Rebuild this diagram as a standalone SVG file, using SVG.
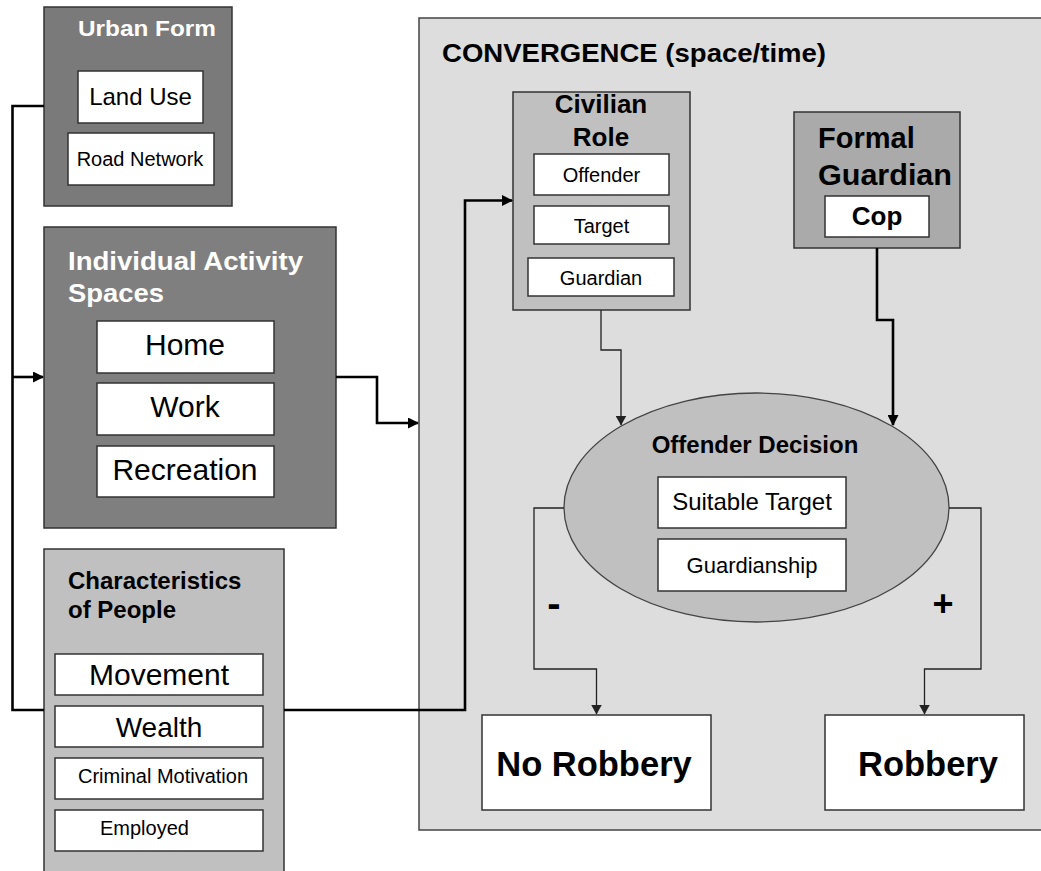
<svg xmlns="http://www.w3.org/2000/svg" width="1041" height="871" viewBox="0 0 1041 871">
  <style>
    text { font-family: "Liberation Sans", Arial, sans-serif; fill: #000; }
    .b { font-weight: bold; }
    .w { fill: #fff; }
    .mid { text-anchor: middle; }
    .dark { fill: #7a7a7a; stroke: #333; stroke-width: 1.5; }
    .mid-gray { fill: #aaaaaa; stroke: #333; stroke-width: 1.5; }
    .light { fill: #c0c0c0; stroke: #333; stroke-width: 1.5; }
    .panel { fill: #dddddd; stroke: #444; stroke-width: 1.5; }
    .item { fill: #fff; stroke: #333; stroke-width: 1.5; }
    .thick { fill: none; stroke: #000; stroke-width: 2.6; }
    .thin { fill: none; stroke: #222; stroke-width: 1.3; }
  </style>
  <defs>
    <marker id="ah-thick" markerUnits="userSpaceOnUse" markerWidth="11" markerHeight="11" refX="10" refY="5.5" orient="auto">
      <path d="M0,0 L11,5.5 L0,11 Z" fill="#000"/>
    </marker>
    <marker id="ah-thin" markerUnits="userSpaceOnUse" markerWidth="10" markerHeight="11" refX="9.5" refY="5.5" orient="auto">
      <path d="M0,0 L10,5.5 L0,11 Z" fill="#222"/>
    </marker>
  </defs>

  <rect width="1041" height="871" fill="#fff"/>

  <!-- Convergence panel (drawn first, other nodes sit on it) -->
  <g id="convergence">
    <rect class="panel" x="419" y="18" width="640" height="812"/>
    <text class="b" x="442" y="62" font-size="26" textLength="384" lengthAdjust="spacingAndGlyphs">CONVERGENCE (space/time)</text>
  </g>

  <!-- Urban form -->
  <g id="urban-form">
    <rect class="dark" x="44" y="7" width="188" height="199"/>
    <text class="b w" x="78" y="36" font-size="22" textLength="138" lengthAdjust="spacingAndGlyphs">Urban Form</text>
    <rect class="item" x="78" y="71" width="125" height="52"/>
    <text class="mid" x="140.5" y="105" font-size="24">Land Use</text>
    <rect class="item" x="68" y="133" width="146" height="52"/>
    <text class="mid" x="140" y="166" font-size="20">Road Network</text>
  </g>

  <!-- Individual activity spaces -->
  <g id="activity-spaces">
    <rect class="dark" x="44" y="227" width="292" height="301" style="fill:#7f7f7f"/>
    <text class="b w" x="68" y="270" font-size="26" textLength="235" lengthAdjust="spacingAndGlyphs">Individual Activity</text>
    <text class="b w" x="68" y="302" font-size="26" textLength="96" lengthAdjust="spacingAndGlyphs">Spaces</text>
    <rect class="item" x="97" y="321" width="177" height="52"/>
    <text class="mid" x="185" y="355" font-size="30">Home</text>
    <rect class="item" x="97" y="383" width="177" height="52"/>
    <text class="mid" x="185" y="417" font-size="30">Work</text>
    <rect class="item" x="97" y="446" width="177" height="51"/>
    <text class="mid" x="185" y="480" font-size="30">Recreation</text>
  </g>

  <!-- Characteristics of people -->
  <g id="characteristics">
    <rect class="light" x="44" y="549" width="240" height="340"/>
    <text class="b" x="68" y="589" font-size="24">Characteristics</text>
    <text class="b" x="68" y="618" font-size="24">of People</text>
    <rect class="item" x="55" y="654" width="208" height="41"/>
    <text class="mid" x="159" y="685" font-size="30">Movement</text>
    <rect class="item" x="55" y="706" width="208" height="41"/>
    <text class="mid" x="159" y="737" font-size="28">Wealth</text>
    <rect class="item" x="55" y="758" width="208" height="41"/>
    <text x="78" y="783" font-size="20">Criminal Motivation</text>
    <rect class="item" x="55" y="810" width="208" height="41"/>
    <text x="100" y="835" font-size="20">Employed</text>
  </g>

  <!-- Civilian role -->
  <g id="civilian-role">
    <rect class="light" x="513" y="92" width="177" height="218"/>
    <text class="b mid" x="601" y="113" font-size="26">Civilian</text>
    <text class="b mid" x="601" y="146" font-size="26">Role</text>
    <rect class="item" x="534" y="154" width="135" height="41"/>
    <text class="mid" x="601.5" y="182" font-size="20">Offender</text>
    <rect class="item" x="534" y="206" width="135" height="38"/>
    <text class="mid" x="601.5" y="233" font-size="20">Target</text>
    <rect class="item" x="528" y="258" width="146" height="38"/>
    <text class="mid" x="601" y="285" font-size="20">Guardian</text>
  </g>

  <!-- Formal guardian -->
  <g id="formal-guardian">
    <rect class="mid-gray" x="794" y="112" width="166" height="136"/>
    <text class="b" x="818" y="148" font-size="29">Formal</text>
    <text class="b" x="818" y="185" font-size="29" textLength="134" lengthAdjust="spacingAndGlyphs">Guardian</text>
    <rect class="item" x="825" y="196" width="104" height="41"/>
    <text class="b mid" x="877" y="225" font-size="26">Cop</text>
  </g>

  <!-- Offender decision -->
  <g id="offender-decision">
    <ellipse cx="756.5" cy="507.5" rx="192.5" ry="114.5" fill="#c0c0c0" stroke="#444" stroke-width="1.3"/>
    <text class="b mid" x="755" y="453" font-size="24">Offender Decision</text>
    <rect class="item" x="658" y="477" width="188" height="51"/>
    <text class="mid" x="752" y="510" font-size="24">Suitable Target</text>
    <rect class="item" x="658" y="539" width="188" height="52"/>
    <text class="mid" x="752" y="573" font-size="22">Guardianship</text>
  </g>

  <!-- Outcomes -->
  <g id="no-robbery">
    <rect class="item" x="482" y="715" width="229" height="95"/>
    <text class="b mid" x="594" y="776" font-size="34.5">No Robbery</text>
  </g>
  <g id="robbery">
    <rect class="item" x="825" y="715" width="199" height="95"/>
    <text class="b mid" x="928" y="776" font-size="34.5">Robbery</text>
  </g>

  <!-- Connectors -->
  <g id="connectors">
    <path class="thick" d="M44,106 H12.5 V710 H44"/>
    <path class="thick" d="M12.5,377 H43" marker-end="url(#ah-thick)"/>
    <path class="thick" d="M336,377 H377 V423 H418" marker-end="url(#ah-thick)"/>
    <path class="thick" d="M284,710 H465 V200.5 H512" marker-end="url(#ah-thick)"/>
    <path class="thick" d="M877,248 V320 H893 V425" marker-end="url(#ah-thick)"/>
    <path class="thin" d="M601,310 V350 H621 V425" marker-end="url(#ah-thin)"/>
    <path class="thin" d="M564,508 H534 V669 H596.5 V714" marker-end="url(#ah-thin)"/>
    <path class="thin" d="M949,508 H981 V669 H924.5 V714" marker-end="url(#ah-thin)"/>
    <text class="b mid" x="554" y="617" font-size="40">-</text>
    <text class="b mid" x="943" y="616" font-size="36">+</text>
  </g>
</svg>
